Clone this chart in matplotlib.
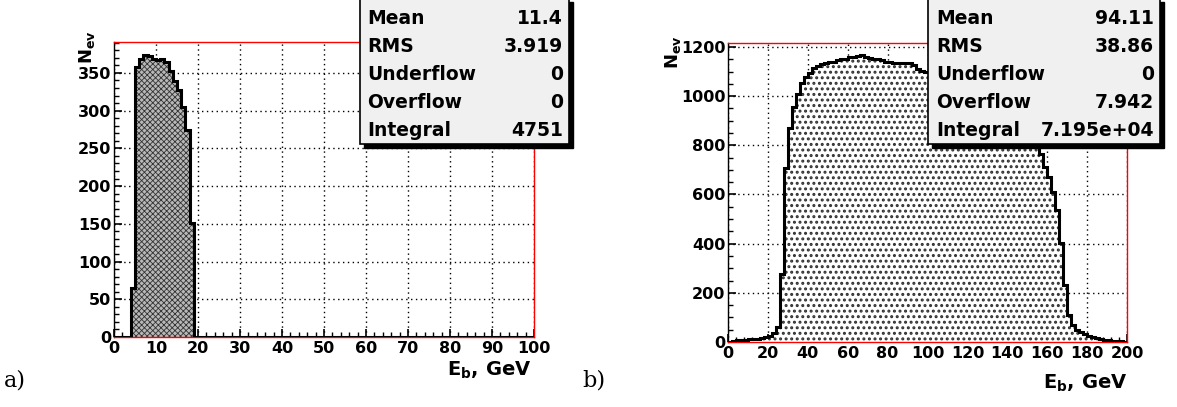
import numpy as np
import matplotlib
matplotlib.use("Agg")
import matplotlib.pyplot as plt
from matplotlib.patches import Rectangle
from matplotlib.ticker import MultipleLocator

plt.rcParams['font.family'] = ['DejaVu Sans']
plt.rcParams['font.weight'] = 'bold'
plt.rcParams['mathtext.fontset'] = 'custom'
plt.rcParams['mathtext.rm'] = 'DejaVu Sans:bold'
plt.rcParams['mathtext.bf'] = 'DejaVu Sans:bold'
plt.rcParams['mathtext.it'] = 'DejaVu Sans:bold'

# ---- data ----
# a) 1 GeV bins, non-empty from 4 to 19 GeV
a_first_bin = 4
a_counts = [65, 358, 369, 374, 372, 368, 367, 368, 365, 352, 339, 328, 305, 275, 151]
a_stats = [("Mean", "11.4"), ("RMS", "3.919"), ("Underflow", "0"),
           ("Overflow", "0"), ("Integral", "4751")]

# b) 2 GeV bins, 0 to 200 GeV
b_counts = [2, 4, 7, 9, 10, 11, 12, 14, 17, 20,
            26, 35, 60, 275, 709, 869, 957, 1010, 1055, 1077,
            1093, 1113, 1122, 1130, 1134, 1138, 1140, 1145, 1150, 1152,
            1158, 1161, 1165, 1168, 1160, 1155, 1150, 1150, 1145, 1140,
            1138, 1136, 1136, 1134, 1136, 1135, 1125, 1112, 1102, 1100,
            1098, 1095, 1090, 1085, 1080, 1072, 1065, 1058, 1050, 1040,
            1030, 1020, 1010, 1000, 990, 978, 965, 952, 940, 925,
            910, 895, 880, 862, 845, 825, 815, 795, 766, 713,
            672, 611, 537, 401, 232, 110, 69, 50, 42, 33,
            24, 20, 15, 12, 9, 7, 6, 4, 3, 2]
b_stats = [("Mean", "94.11"), ("RMS", "38.86"), ("Underflow", "0"),
           ("Overflow", "7.942"), ("Integral", "7.195e+04")]

W, H = 1177, 407
fig = plt.figure(figsize=(W / 100, H / 100), dpi=100)


def fx(x):
    return x / W


def fy(y):
    return 1 - y / H


def frame(ax, xmax, ymax, xmaj, xmin, ymaj, ymin):
    ax.set_xlim(0, xmax)
    ax.set_ylim(0, ymax)
    for s in ax.spines.values():
        s.set_color('red')
        s.set_linewidth(1.0)
    ax.spines['left'].set_color('black')
    ax.xaxis.set_major_locator(MultipleLocator(xmaj))
    ax.xaxis.set_minor_locator(MultipleLocator(xmin))
    ax.yaxis.set_major_locator(MultipleLocator(ymaj))
    ax.yaxis.set_minor_locator(MultipleLocator(ymin))
    ax.tick_params(which='both', direction='in', colors='black',
                   top=False, right=False, labelsize=11.5)
    ax.tick_params(which='major', length=6, width=1.2)
    ax.tick_params(which='minor', length=3.5, width=1.0)
    ax.tick_params(axis='x', pad=3)
    ax.tick_params(axis='y', pad=2)
    ax.grid(True, which='major', color='black', linestyle=(0, (1, 2.5)),
            linewidth=1.0)
    ax.set_axisbelow(True)
    for lab in ax.get_xticklabels() + ax.get_yticklabels():
        lab.set_fontweight('bold')


def statbox(x0, x1, y0, y1, rows, xl, xr):
    fig.add_artist(Rectangle((fx(x0 + 4), fy(y1 + 4)), (x1 - x0) / W,
                             (y1 - y0) / H, transform=fig.transFigure,
                             facecolor='black', edgecolor='black', zorder=5))
    fig.add_artist(Rectangle((fx(x0), fy(y1)), (x1 - x0) / W, (y1 - y0) / H,
                             transform=fig.transFigure, facecolor='#f0f0f0',
                             edgecolor='black', linewidth=1.2, zorder=6))
    ys = [19, 47, 74, 102, 130]
    for (name, val), yy in zip(rows, ys):
        fig.text(fx(xl), fy(yy), name, ha='left', va='center', fontsize=13.5,
                 fontweight='bold', zorder=7)
        fig.text(fx(xr), fy(yy), val, ha='right', va='center', fontsize=13.5,
                 fontweight='bold', zorder=7)


# ---- a) ----
ax1 = fig.add_axes([fx(114), fy(337), (534 - 114) / W, (337 - 42) / H])
a_edges = np.arange(0, 101, 1)
a_full = np.zeros(100)
a_full[a_first_bin:a_first_bin + len(a_counts)] = a_counts
with plt.rc_context({'hatch.linewidth': 0.6}):
    ax1.stairs(a_full, a_edges, fill=True, facecolor='#b8b8b8',
               edgecolor='#333333', hatch='xxxxxx', linewidth=0, zorder=2)
ax1.stairs(a_full, a_edges, color='black', linewidth=2.2, baseline=None, zorder=3)
frame(ax1, 100, 391, 10, 2, 50, 10)
fig.text(fx(531), fy(370), r'$\mathbf{E_{b}}$, GeV', ha='right', va='center',
         fontsize=14, fontweight='bold')
fig.text(fx(87), fy(47), r'$\mathbf{N_{ev}}$', rotation=90, ha='center',
         va='center', fontsize=13)
fig.text(fx(4), fy(381), 'a)', family='DejaVu Serif', fontweight='normal',
         fontsize=16, ha='left', va='center')
statbox(360, 569, -2, 144, a_stats, 367, 563)

# ---- b) ----
ax2 = fig.add_axes([fx(728), fy(342), (1127 - 728) / W, (342 - 43) / H])
b_edges = np.arange(0, 201, 2)
b_full = np.array(b_counts, dtype=float)
with plt.rc_context({'hatch.linewidth': 1.4}):
    ax2.stairs(b_full, b_edges, fill=True, facecolor='white',
               edgecolor='#303030', hatch='...', linewidth=0, zorder=2)
ax2.stairs(b_full, b_edges, color='black', linewidth=2.2, baseline=None, zorder=3)
frame(ax2, 200, 1216, 20, 4, 200, 50)
fig.text(fx(1127), fy(383), r'$\mathbf{E_{b}}$, GeV', ha='right', va='center',
         fontsize=14, fontweight='bold')
fig.text(fx(673), fy(52), r'$\mathbf{N_{ev}}$', rotation=90, ha='center',
         va='center', fontsize=13)
fig.text(fx(582), fy(381), 'b)', family='DejaVu Serif', fontweight='normal',
         fontsize=16, ha='left', va='center')
statbox(928, 1160, -2, 144, b_stats, 936, 1154)

fig.savefig('out.png', dpi=100)
